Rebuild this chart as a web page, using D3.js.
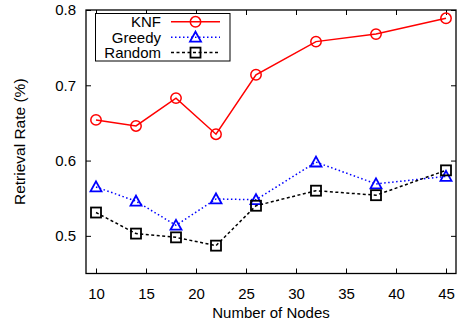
<!DOCTYPE html>
<html>
<head>
<meta charset="utf-8">
<script src="https://cdn.jsdelivr.net/npm/d3@7"></script>
<style>
  html, body { margin: 0; padding: 0; background: #fff; }
  svg { display: block; }
  text { font-family: "Liberation Sans", Arial, Helvetica, sans-serif; fill: #000; }
</style>
</head>
<body>
<svg id="chart" width="461" height="323"></svg>
<script>
const nodes = [10, 14, 18, 22, 26, 32, 38, 45];
const knf = [0.654, 0.646, 0.683, 0.635, 0.714, 0.758, 0.768, 0.789];
const greedy = [0.565, 0.546, 0.514, 0.549, 0.548, 0.598, 0.569, 0.579];
const random = [0.531, 0.503, 0.498, 0.487, 0.540, 0.560, 0.554, 0.587];
const xTicks = [10, 15, 20, 25, 30, 35, 40, 45];
const yTicks = [0.5, 0.6, 0.7, 0.8];
const seriesNames = ["KNF", "Greedy", "Random"];

(function () {
const svg = d3.select("#chart");
const pL = 86, pR = 456, pT = 10, pB = 273.5;

const x = d3.scaleLinear().domain([9, 46]).range([pL, pR]);
const y = d3.scaleLinear().domain([0.45, 0.8]).range([pB, pT]);

const tickLen = 5;
const fs = 15;

const g = svg.append("g");
const xb = d3.axisBottom(x).tickValues(xTicks).tickSize(-tickLen).tickPadding(tickLen + 10).tickFormat(d3.format("d"));
const xt = d3.axisTop(x).tickValues(xTicks).tickSize(-tickLen).tickFormat("");
const yl = d3.axisLeft(y).tickValues(yTicks).tickSize(-tickLen).tickPadding(tickLen + 5).tickFormat(d3.format(".1f"));
const yr = d3.axisRight(y).tickValues(yTicks).tickSize(-tickLen).tickFormat("");

function styleAxis(sel) {
  sel.select(".domain").remove();
  sel.selectAll(".tick line").attr("stroke", "#000").attr("stroke-width", 1);
  sel.selectAll(".tick text").style("font-size", fs + "px").attr("fill", "#000");
}
g.append("g").attr("transform", `translate(0,${pB})`).call(xb).call(styleAxis);
g.append("g").attr("transform", `translate(0,${pT})`).call(xt).call(styleAxis);
g.append("g").attr("transform", `translate(${pL},0)`).call(yl).call(styleAxis);
g.append("g").attr("transform", `translate(${pR},0)`).call(yr).call(styleAxis);

svg.append("text").attr("x", (pL + pR) / 2).attr("y", 318)
  .attr("text-anchor", "middle").style("font-size", fs + "px").text("Number of Nodes");
svg.append("text")
  .attr("transform", `translate(25,${(pT + pB) / 2}) rotate(-90)`)
  .attr("text-anchor", "middle").style("font-size", (fs + 0.5) + "px").text("Retrieval Rate (%)");

const series = [
  { name: seriesNames[0], values: knf, color: "#ff0000", dash: null, marker: "circle" },
  { name: seriesNames[1], values: greedy, color: "#0000ff", dash: "1.5,2.5", marker: "triangle" },
  { name: seriesNames[2], values: random, color: "#000000", dash: "3,2.5", marker: "square" }
];

function drawMarker(sel, type, color, cx, cy) {
  if (type === "circle") {
    sel.append("circle").attr("cx", cx).attr("cy", cy).attr("r", 5.2)
      .attr("fill", "none").attr("stroke", color).attr("stroke-width", 1.5);
  } else if (type === "triangle") {
    const s = 5.5;
    sel.append("path").attr("d", `M${cx},${cy - s}L${cx + s},${cy + s * 0.8}L${cx - s},${cy + s * 0.8}Z`)
      .attr("fill", "none").attr("stroke", color).attr("stroke-width", 1.8);
  } else {
    const s = 5;
    sel.append("rect").attr("x", cx - s).attr("y", cy - s).attr("width", 2 * s).attr("height", 2 * s)
      .attr("fill", "none").attr("stroke", color).attr("stroke-width", 1.8);
  }
}

const line = d3.line().x((d, i) => x(nodes[i])).y(d => y(d));
series.forEach(s => {
  const p = svg.append("path").datum(s.values).attr("d", line)
    .attr("fill", "none").attr("stroke", s.color).attr("stroke-width", 1.5);
  if (s.dash) p.attr("stroke-dasharray", s.dash);
  const mg = svg.append("g");
  s.values.forEach((v, i) => drawMarker(mg, s.marker, s.color, x(nodes[i]), y(v)));
});

const lg = svg.append("g");
lg.append("rect").attr("x", 95.5).attr("y", 13.5).attr("width", 134.5).attr("height", 47.5)
  .attr("fill", "#fff").attr("stroke", "#000").attr("stroke-width", 1);
const rowsY = [21.8, 37.2, 52.6];
series.forEach((s, i) => {
  const cy = rowsY[i];
  lg.append("text").attr("x", 161).attr("y", cy + 5.5).attr("text-anchor", "end")
    .style("font-size", fs + "px").text(s.name);
  const l = lg.append("line").attr("x1", 171).attr("x2", 220).attr("y1", cy).attr("y2", cy)
    .attr("stroke", s.color).attr("stroke-width", 1.5);
  if (s.dash) l.attr("stroke-dasharray", s.dash);
  drawMarker(lg, s.marker, s.color, 195.5, cy);
});

svg.append("rect").attr("x", pL).attr("y", pT).attr("width", pR - pL).attr("height", pB - pT)
  .attr("fill", "none").attr("stroke", "#000").attr("stroke-width", 1.3);
})();
</script>
</body>
</html>
